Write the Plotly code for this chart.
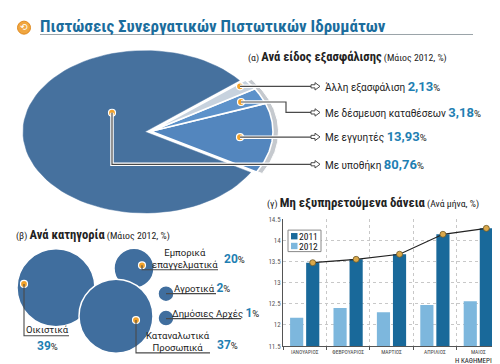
import numpy as np
import plotly.graph_objects as go

# ---------------- DATA ----------------
pie_labels = ["Με υποθήκη", "Με εγγυητές", "Με δέσμευση καταθέσεων", "Άλλη εξασφάλιση"]
pie_values = [80.76, 13.93, 3.18, 2.13]

bubble_labels = ["Οικιστικά", "Εμπορικά<br>επαγγελματικά", "Αγροτικά", "Δημόσιες Αρχές", "Καταναλωτικά<br>Προσωπικά"]
bubble_values = [39, 20, 2, 1, 37]

months = ["ΙΑΝΟΥΑΡΙΟΣ", "ΦΕΒΡΟΥΑΡΙΟΣ", "ΜΑΡΤΙΟΣ", "ΑΠΡΙΛΙΟΣ", "ΜΑΙΟΣ"]
series_names = ["2011", "2012"]
npl_2011 = [13.47, 13.55, 13.67, 14.14, 14.28]
npl_2012 = [12.17, 12.40, 12.30, 12.47, 12.56]
y_ticks = [11.5, 12, 12.5, 13, 13.5, 14, 14.5]

# ---------------- STYLE / LAYOUT CONSTANTS ----------------
W, H = 500, 364
FONT = "Roboto, Open Sans, sans-serif"
NARROW = "Roboto Condensed, Liberation Sans Narrow, DejaVu Sans Condensed, sans-serif"
TITLE_C = "#1b6d9d"
NUM_C = "#1f7fb3"
TXT_C = "#222222"
LINE_C = "#4a4a4a"
ORANGE = "#f2a22a"

PIE_CX, PIE_CY, PIE_A, PIE_B = 137, 122.5, 122, 83
PIE_START = -30.0 + 360 * sum(pie_values[1:]) / 100.0   # mortgage slice begins here (ccw)
PIE_COLORS = ["#46719e", "#5386be", "#5d92ca", "#c7d2de"]
EXPLODE = 6
RIM_C = "#c5c9ce"

BUBBLE_POS = [(48, 282), (126, 262), (158, 288), (158, 313), (108, 311)]
BUBBLE_C = "#406e9e"

BAR_DARK = "#19699a"
BAR_LIGHT = "#7db7dd"
BARGAP = 0.26

fig = go.Figure()

# ---- pie drawn on pixel canvas axis ----
def wedge(t0, t1, a, b, ox, oy):
    t = np.radians(np.linspace(t0, t1, 80))
    xs = np.concatenate([[PIE_CX + ox], PIE_CX + ox + a * np.cos(t), [PIE_CX + ox]])
    ys = np.concatenate([[PIE_CY + oy], PIE_CY + oy - b * np.sin(t), [PIE_CY + oy]])
    return xs, ys

angles = []
cur = PIE_START
for v in pie_values:
    span = 360 * v / 100.0
    angles.append((cur, cur + span))
    cur += span

t_lo = angles[1][0]
t_hi = angles[-1][1]
midg = np.radians((t_lo + t_hi) / 2)
gx, gy = EXPLODE * np.cos(midg), -EXPLODE * np.sin(midg)

xs, ys = wedge(angles[0][0], angles[0][1], PIE_A, PIE_B, 0, 0)
fig.add_trace(go.Scatter(x=xs, y=ys, fill="toself", fillcolor=PIE_COLORS[0], mode="lines",
                         line=dict(color=PIE_COLORS[0], width=0.5), hoverinfo="skip", showlegend=False))
xs, ys = wedge(t_lo + 0.5, t_hi - 1.0, PIE_A + 4, PIE_B + 3.5, gx + 1.5, gy + 0.5)
fig.add_trace(go.Scatter(x=xs, y=ys, fill="toself", fillcolor=RIM_C, mode="lines",
                         line=dict(color="white", width=1), hoverinfo="skip", showlegend=False))
for i in range(1, len(pie_values)):
    t0, t1 = angles[i]
    xs, ys = wedge(t0, t1, PIE_A, PIE_B, gx, gy)
    fig.add_trace(go.Scatter(x=xs, y=ys, fill="toself", fillcolor=PIE_COLORS[i], mode="lines",
                             line=dict(color="white", width=1.6),
                             hoverinfo="skip", showlegend=False))

# ---- bubbles ----
fig.add_trace(go.Scatter(
    x=[p[0] for p in BUBBLE_POS], y=[p[1] for p in BUBBLE_POS], mode="markers",
    marker=dict(size=bubble_values, sizemode="diameter", sizeref=0.5, sizemin=8,
                color=BUBBLE_C, line=dict(color="white", width=1.5), opacity=1),
    hoverinfo="skip", showlegend=False))

# ---- leader lines ----
shapes = []
def leader(path):
    shapes.append(dict(type="path", path=path, xref="x", yref="y",
                       line=dict(color="white", width=3.5), layer="above"))
    shapes.append(dict(type="path", path=path, xref="x", yref="y",
                       line=dict(color=LINE_C, width=1.2), layer="above"))

pie_rows_y = {3: 76, 2: 102.7, 1: 127.7, 0: 155.7}
pie_dots = {3: (232, 76), 2: (233, 92), 1: (232, 128), 0: (104, 103)}
leader("M 232 76 H 303")
leader("M 233 92 H 278 V 102.7 H 303")
leader("M 232 128 H 303")
leader("M 104 103 V 155.7 H 303")
for y in pie_rows_y.values():
    shapes.append(dict(type="path", xref="x", yref="y", layer="above",
                       path=(f"M 303 {y-1.6} H 307 V {y-3.8} L 312 {y} L 307 {y+3.8} "
                             f"V {y+1.6} H 303 Z"),
                       fillcolor="white", line=dict(color=LINE_C, width=1)))

def uline(path):
    shapes.append(dict(type="path", path=path, xref="x", yref="y",
                       line=dict(color=LINE_C, width=1.1), layer="above"))
uline("M 16 278 V 331 H 61")
uline("M 134 259 V 263.5 H 210")
uline("M 158 288 H 208")
uline("M 158 313.5 H 233")
uline("M 128 315 V 348.5 H 202")

shapes.append(dict(type="line", x0=32, x1=465, y0=23, y1=23, xref="x", yref="y",
                   line=dict(color="#9aa3a8", width=1)))
shapes.append(dict(type="line", x0=0, x1=437, y0=362, y1=362, xref="x", yref="y",
                   line=dict(color="#bfe0e4", width=2)))

shapes.append(dict(type="rect", x0=280, x1=313, y0=223, y1=245, xref="x", yref="y",
                   line=dict(color="#888", width=1), fillcolor="white", layer="above"))
for k, col in enumerate([BAR_DARK, BAR_LIGHT]):
    yy = 226 + 10 * k
    shapes.append(dict(type="rect", x0=283, x1=289.5, y0=yy, y1=yy + 6.5, xref="x", yref="y",
                       line=dict(width=0), fillcolor=col, layer="above"))

dot_pts = list(pie_dots.values()) + [(16, 278), (134, 259), (128, 315)]
fig.add_trace(go.Scatter(x=[p[0] for p in dot_pts], y=[p[1] for p in dot_pts], mode="markers",
                         marker=dict(size=7, color=ORANGE, line=dict(color="white", width=1.2)),
                         hoverinfo="skip", showlegend=False))
fig.add_trace(go.Scatter(x=[16], y=[16], mode="markers+text", text=["⟲"],
                         textfont=dict(size=9, color="white", family="DejaVu Sans"),
                         textposition="middle center",
                         marker=dict(size=13, color="#f0a640", line=dict(color="#e08a20", width=1)),
                         hoverinfo="skip", showlegend=False))

annotations = []
def ann(x, y, text, size=10, color=TXT_C, xanchor="left", family=FONT, align="left", yanchor="middle"):
    annotations.append(dict(x=x, y=y, xref="x", yref="y", text=text, showarrow=False,
                            xanchor=xanchor, yanchor=yanchor, align=align,
                            borderpad=0, borderwidth=0,
                            font=dict(size=size, color=color, family=family)))

def pct(v, dec, big=13):
    s = f"{v:.{dec}f}".replace(".", ",")
    return (f"<b><span style='font-size:{big}px;color:{NUM_C}'>{s}</span></b>"
            f"<span style='font-size:9.5px'>%</span>")

ann(32, 14, "<b>Πιστώσεις Συνεργατικών Πιστωτικών Ιδρυμάτων</b>", size=17, color=TITLE_C,
    family=NARROW)

ann(240, 45, "(α) <b><span style='font-size:12.6px'>Ανά είδος εξασφάλισης</span></b> (Μάιος 2012, %)",
    size=9.8, family=NARROW)
ann(8, 228, "(β) <b><span style='font-size:12.6px'>Ανά κατηγορία</span></b> (Μάιος 2012, %)",
    size=9.8, family=NARROW)
ann(259, 195, "(γ) <b><span style='font-size:12.8px'>Μη εξυπηρετούμενα δάνεια</span></b> (Ανά μήνα, %)",
    size=9.8, family=NARROW)

for i in range(len(pie_labels)):
    ann(317, pie_rows_y[i], f"{pie_labels[i]} {pct(pie_values[i], 2)}", size=10)

ann(39, 325, bubble_labels[0], xanchor="center", size=9.5)
ann(39, 342, pct(bubble_values[0], 0, 12), xanchor="center")
ann(177, 252, bubble_labels[1], xanchor="center", align="center", size=9.5)
ann(226, 252.5, pct(bubble_values[1], 0, 12), xanchor="center")
ann(166, 282, bubble_labels[2] + " " + pct(bubble_values[2], 0, 12), xanchor="left", size=9.5)
ann(164, 307.5, bubble_labels[3] + " " + pct(bubble_values[3], 0, 12), xanchor="left", size=9.5)
ann(170, 337, bubble_labels[4], xanchor="center", align="center", size=9.5)
ann(219, 340, pct(bubble_values[4], 0, 12), xanchor="center")

for k, nm in enumerate(series_names):
    ann(291, 229.3 + 10 * k, nm, size=9.5, family=NARROW, color="#111")

ann(469, 356.5, "Η ΚΑΘΗΜΕΡΙΝΗ", size=7, xanchor="center", family=NARROW)

# ---- bar chart ----
fig.add_trace(go.Bar(x=months, y=npl_2012, name=series_names[1],
                     marker=dict(color=BAR_LIGHT, line=dict(width=0)),
                     xaxis="x2", yaxis="y2", hoverinfo="skip", showlegend=False))
fig.add_trace(go.Bar(x=months, y=npl_2011, name=series_names[0],
                     marker=dict(color=BAR_DARK, line=dict(width=0)),
                     xaxis="x2", yaxis="y2", hoverinfo="skip", showlegend=False))
shift = (1 - BARGAP) / 4
fig.add_trace(go.Scatter(x=months, y=npl_2011, mode="lines+markers", xaxis="x3", yaxis="y2",
                         line=dict(color="#222", width=1.2),
                         marker=dict(size=6, color="#dba84a", line=dict(color="#6d5a2a", width=0.8)),
                         hoverinfo="skip", showlegend=False))

x_dom = [275 / W, 492 / W]
y_dom = [1 - 341.7 / H, 1 - 211.7 / H]

fig.update_layout(
    width=W, height=H, margin=dict(l=0, r=0, t=0, b=0),
    paper_bgcolor="white", plot_bgcolor="rgba(0,0,0,0)",
    font=dict(family=FONT, color=TXT_C),
    barmode="group", bargap=BARGAP, bargroupgap=0.18,
    showlegend=False,
    xaxis=dict(range=[0, W], domain=[0, 1], visible=False, fixedrange=True),
    yaxis=dict(range=[H, 0], domain=[0, 1], visible=False, fixedrange=True),
    xaxis2=dict(domain=x_dom, anchor="y2", type="category", tickson="boundaries",
                showgrid=True, gridcolor="#c8c8c8", griddash="dot", gridwidth=1,
                showline=True, linecolor="#555", linewidth=1, ticks="outside", ticklen=3,
                tickcolor="#555", tickangle=0,
                tickfont=dict(size=5.5, color="#444", family=NARROW)),
    xaxis3=dict(domain=x_dom, anchor="y2", overlaying="x2", type="category",
                range=[-0.5 - shift, len(months) - 0.5 - shift], visible=False),
    yaxis2=dict(domain=y_dom, anchor="x2", range=[11.5, 14.5], tickvals=y_ticks,
                showgrid=True, gridcolor="#c8c8c8", griddash="dot", gridwidth=1,
                showline=True, linecolor="#555", linewidth=1, ticks="",
                tickfont=dict(size=7, color="#555", family=NARROW), zeroline=False),
    shapes=shapes, annotations=annotations,
)

fig.write_html("out.html")
